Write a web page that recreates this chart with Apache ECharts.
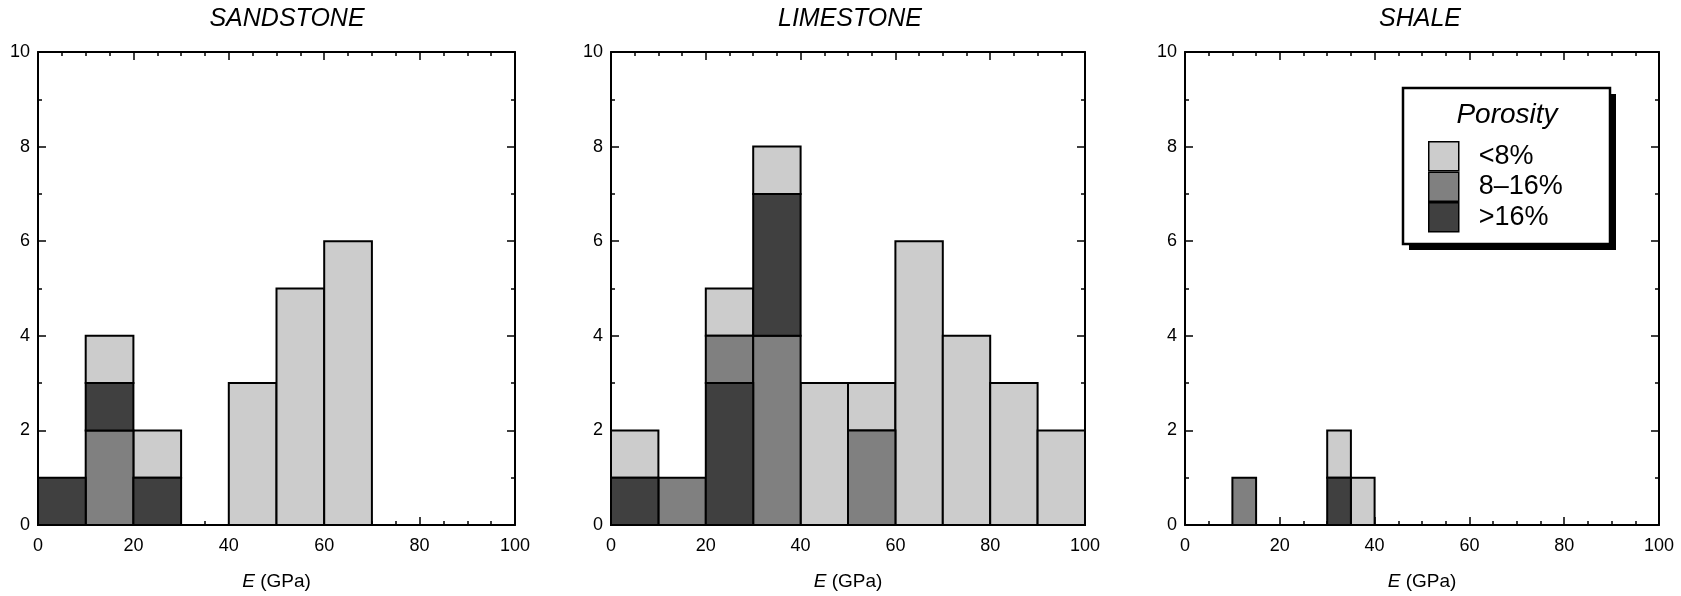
<!DOCTYPE html>
<html>
<head>
<meta charset="utf-8">
<title>Young's modulus histograms</title>
<script src="https://cdn.jsdelivr.net/npm/echarts@6/dist/echarts.min.js"></script>
<style>
  html, body { margin: 0; padding: 0; background: #fff; }
  #chart { width: 1681px; height: 596px; }
</style>
</head>
<body>
<div id="chart"></div>
<script>
// ==============================================================
// Data (counts per E bin, split by porosity class)
// ==============================================================
var rockNames = ['SANDSTONE', 'LIMESTONE', 'SHALE'];
var porosityNames = ['<8%', '8\u201316%', '>16%'];

// sandstone, 10 GPa bins
var sandBins = [0, 10, 20, 40, 50, 60];
var sandUnder8 = [0, 1, 1, 3, 5, 6];
var sandMid = [0, 2, 0, 0, 0, 0];
var sandOver16 = [1, 1, 1, 0, 0, 0];
var sandDarkOnMid = [0, 1, 0, 0, 0, 0]; // >16% block drawn above the 8-16% block

// limestone, 10 GPa bins
var limeBins = [0, 10, 20, 30, 40, 50, 60, 70, 80, 90];
var limeUnder8 = [1, 0, 1, 1, 3, 1, 6, 4, 3, 2];
var limeMid = [0, 1, 1, 4, 0, 2, 0, 0, 0, 0];
var limeOver16 = [1, 0, 3, 3, 0, 0, 0, 0, 0, 0];
var limeDarkOnMid = [0, 0, 0, 1, 0, 0, 0, 0, 0, 0];

// shale, 5 GPa bins
var shaleBins = [10, 30, 35];
var shaleUnder8 = [0, 1, 1];
var shaleMid = [1, 0, 0];
var shaleOver16 = [0, 1, 0];
var shaleDarkOnMid = [0, 0, 0];

var xTicks = [0, 20, 40, 60, 80, 100];
var yTicks = [0, 2, 4, 6, 8, 10];

var rocks = [
  { bins: sandBins, width: 10, under8: sandUnder8, mid: sandMid, over16: sandOver16, darkOnMid: sandDarkOnMid },
  { bins: limeBins, width: 10, under8: limeUnder8, mid: limeMid, over16: limeOver16, darkOnMid: limeDarkOnMid },
  { bins: shaleBins, width: 5, under8: shaleUnder8, mid: shaleMid, over16: shaleOver16, darkOnMid: shaleDarkOnMid }
];

var colors = ['#cccccc', '#808080', '#404040'];
var font = 'Liberation Sans, Arial, Helvetica, sans-serif';

// grid boxes in px
var gridLeft = [38, 611, 1185];
var gridWidth = [477, 474, 474];
var gridTop = 52, gridHeight = 476;
var titleX = [287, 850, 1420];

// build stacked rectangles [x0, x1, y0, y1] for each porosity class
function stackRects(r) {
  var out = [[], [], []];
  r.bins.forEach(function (b, i) {
    var order = r.darkOnMid[i] ? [1, 2, 0] : [2, 1, 0];
    var vals = [r.under8[i], r.mid[i], r.over16[i]];
    var y = 0;
    order.forEach(function (k) {
      if (vals[k] > 0) {
        out[k].push([b, b + r.width, y, y + vals[k]]);
        y += vals[k];
      }
    });
  });
  return out;
}

function renderRect(params, api) {
  var p0 = api.coord([api.value(0), api.value(3)]);
  var p1 = api.coord([api.value(1), api.value(2)]);
  return {
    type: 'rect',
    shape: { x: p0[0], y: p0[1], width: p1[0] - p0[0], height: p1[1] - p0[1] },
    style: { fill: colors[params.seriesIndex % 3], stroke: '#000', lineWidth: 2 }
  };
}

var grids = [], xAxes = [], yAxes = [], series = [], titles = [];

rocks.forEach(function (r, g) {
  grids.push({ left: gridLeft[g], top: gridTop, width: gridWidth[g], height: gridHeight });

  titles.push({
    text: rockNames[g],
    left: titleX[g], top: 7, padding: 0, textAlign: 'center',
    textStyle: { fontFamily: font, fontSize: 25, fontStyle: 'italic', fontWeight: 'normal', color: '#000' }
  });

  var axisCommon = {
    gridIndex: g,
    type: 'value',
    axisLine: { onZero: false, lineStyle: { color: '#000', width: 2 } },
    axisTick: { inside: true, length: 8, lineStyle: { color: '#000', width: 1.5 } },
    minorTick: { show: true, length: 4, lineStyle: { color: '#000', width: 1.5 } },
    splitLine: { show: false },
    minorSplitLine: { show: false }
  };

  [false, true].forEach(function (mirror) {
    xAxes.push(echarts.util.merge({
      position: mirror ? 'top' : 'bottom',
      min: xTicks[0], max: xTicks[xTicks.length - 1], interval: xTicks[1] - xTicks[0],
      minorTick: { splitNumber: 4 },
      axisLabel: { show: !mirror, fontFamily: font, fontSize: 18, color: '#000', margin: 12 },
      name: mirror ? '' : '{it|E} (GPa)',
      nameLocation: 'middle', nameGap: 47,
      nameTextStyle: {
        fontFamily: font, fontSize: 19, color: '#000',
        rich: { it: { fontFamily: font, fontSize: 19, fontStyle: 'italic', color: '#000' } }
      }
    }, axisCommon, true));
    yAxes.push(echarts.util.merge({
      position: mirror ? 'right' : 'left',
      min: yTicks[0], max: yTicks[yTicks.length - 1], interval: yTicks[1] - yTicks[0],
      minorTick: { splitNumber: 2 },
      axisLabel: { show: !mirror, fontFamily: font, fontSize: 18, color: '#000', margin: 8 }
    }, axisCommon, true));
  });

  var rects = stackRects(r);
  porosityNames.forEach(function (name, k) {
    series.push({
      type: 'custom',
      name: name,
      xAxisIndex: g * 2, yAxisIndex: g * 2,
      itemStyle: { color: colors[k], borderColor: '#000', borderWidth: 1.5 },
      renderItem: renderRect,
      encode: { x: [0, 1], y: [2, 3] },
      data: rects[k]
    });
  });
});

titles.push({
  text: 'Porosity',
  left: 1507, top: 101, padding: 0, textAlign: 'center',
  textStyle: { fontFamily: font, fontSize: 28, fontStyle: 'italic', fontWeight: 'normal', color: '#000' }
});

var chart = echarts.init(document.getElementById('chart'));
chart.setOption({
  animation: false,
  backgroundColor: '#fff',
  title: titles,
  grid: grids,
  xAxis: xAxes,
  yAxis: yAxes,
  // legend frame with a hard drop shadow
  graphic: [
    { type: 'rect', z: 1, shape: { x: 1409, y: 94, width: 207, height: 156 }, style: { fill: '#000' } },
    { type: 'rect', z: 2, shape: { x: 1403, y: 88, width: 207, height: 156 }, style: { fill: '#fff', stroke: '#000', lineWidth: 2.5 } }
  ],
  legend: {
    data: porosityNames,
    orient: 'vertical',
    left: 1404, top: 88,
    itemGap: 0, itemWidth: 30, itemHeight: 29,
    padding: [53, 0, 0, 24],
    icon: 'rect',
    itemStyle: { borderColor: '#000', borderWidth: 1.5 },
    textStyle: { fontFamily: font, fontSize: 27, color: '#000', padding: [0, 0, 0, 15] }
  },
  series: series
});
</script>
</body>
</html>
